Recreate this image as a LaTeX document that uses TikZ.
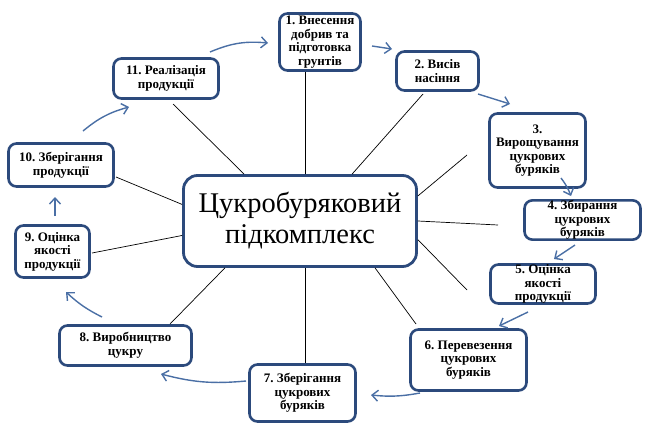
\documentclass[tikz,border=0pt]{standalone}
\usepackage{fontspec}
\setmainfont{Liberation Serif}
\usetikzlibrary{arrows.meta}
\definecolor{boxline}{HTML}{2C4A7C}
\definecolor{flowline}{HTML}{4A6FA5}
\tikzset{
  stage/.style={draw=boxline, line width=2.6pt, rounded corners=8pt, fill=white,
    align=center, inner sep=0pt, font=\bfseries\fontsize{13}{13.6}\selectfont},
  hub/.style={draw=boxline, line width=2.8pt, rounded corners=14pt, fill=white,
    align=center, inner sep=0pt, font=\fontsize{28.5}{31}\selectfont},
  spoke/.style={black, line width=0.7pt},
  flow/.style={flowline, line width=1.4pt, -{Straight Barb[length=6pt,width=11pt]}}
}

\begin{document}
\begin{tikzpicture}[x=1pt, y=-1pt]
\useasboundingbox (0,0) rectangle (647,431);

% Centre of the diagram
\node[hub, minimum width=233pt, minimum height=91pt] (hub) at (300,221)
  {Цукробуряковий\\підкомплекс};

% Stages of the cycle
\node[stage, minimum width=81pt, minimum height=57pt] (b1) at (320,42)
  {1.~Внесення\\добрив та\\підготовка\\грунтів};
\node[stage, minimum width=82pt, minimum height=39pt] (b2) at (437.5,71)
  {2.~Висів\\насіння};
\node[stage, minimum width=96pt, minimum height=74pt] (b3) at (537.5,150.5)
  {3.\\Вирощування\\цукрових\\буряків};
\node[stage, minimum width=116pt, minimum height=35pt] (b4) at (582.5,220)
  {4.~Збирання\\цукрових\\буряків};
\node[stage, minimum width=105pt, minimum height=39pt] (b5) at (543,284)
  {5.~Оцінка\\якості\\продукції};
\node[stage, minimum width=116pt, minimum height=61pt] (b6) at (468.5,360)
  {6.~Перевезення\\цукрових\\буряків};
\node[stage, minimum width=106pt, minimum height=57pt] (b7) at (302.5,393)
  {7.~Зберігання\\цукрових\\буряків};
\node[stage, minimum width=132pt, minimum height=40pt] (b8) at (125.5,345.5)
  {8.~Виробництво\\цукру};
\node[stage, minimum width=74pt, minimum height=52pt] (b9) at (52.5,251.5)
  {9.~Оцінка\\якості\\продукції};
\node[stage, minimum width=105pt, minimum height=43pt] (b10) at (61,165)
  {10.~Зберігання\\продукції};
\node[stage, minimum width=105pt, minimum height=40pt] (b11) at (166,78.5)
  {11.~Реалізація\\продукції};

% Free ends of the spokes
\coordinate (e2) at (423,94);
\coordinate (e3) at (467,155);
\coordinate (e4) at (498,225);
\coordinate (e5) at (467,290);
\coordinate (e6) at (416,324);
\coordinate (e8) at (170,324);
\coordinate (e9) at (92,253);
\coordinate (e10) at (116,177);
\coordinate (e11) at (173,104);

% Spokes
\draw[spoke] (hub.84) -- (hub.84 |- b1.south);
\draw[spoke] (hub.42) -- (e2);
\draw[spoke] (hub.12) -- (e3);
\draw[spoke] (hub.0) -- (e4);
\draw[spoke] (hub.-9) -- (e5);
\draw[spoke] (hub.-32) -- (e6);
\draw[spoke] (hub.-84) -- (hub.-84 |- b7.north);
\draw[spoke] (hub.-148) -- (e8);
\draw[spoke] (hub.187) -- (e9);
\draw[spoke] (hub.172) -- (e10);
\draw[spoke] (hub.140) -- (e11);

% Ends of the cycle arrows
\foreach \n/\s/\e in {1/{210,52}/{268,43}, 2/{372,46}/{392,49},
    3/{478,94}/{510,104}, 4/{561,178}/{571,196}, 5/{575,245}/{554,259},
    6/{528,312}/{499,326}, 7/{420,393}/{371,395}, 8/{246,381}/{161,374},
    9/{102,317}/{66,292}, 10/{55,216}/{55,197}, 11/{83,131}/{129,107}}
  {\coordinate (f\n) at (\s); \coordinate (t\n) at (\e);}

% Cycle arrows
\draw[flow] (f1) to[bend left=14] (t1);
\draw[flow] (f2) -- (t2);
\draw[flow] (f3) -- (t3);
\draw[flow] (f4) to[bend left=8] (t4);
\draw[flow] (f5) -- (t5);
\draw[flow] (f6) -- (t6);
\draw[flow] (f7) to[bend left=8] (t7);
\draw[flow] (f8) to[bend left=10] (t8);
\draw[flow] (f9) to[bend left=8] (t9);
\draw[flow] (f10) -- (t10);
\draw[flow] (f11) to[bend left=12] (t11);

\end{tikzpicture}
\end{document}
